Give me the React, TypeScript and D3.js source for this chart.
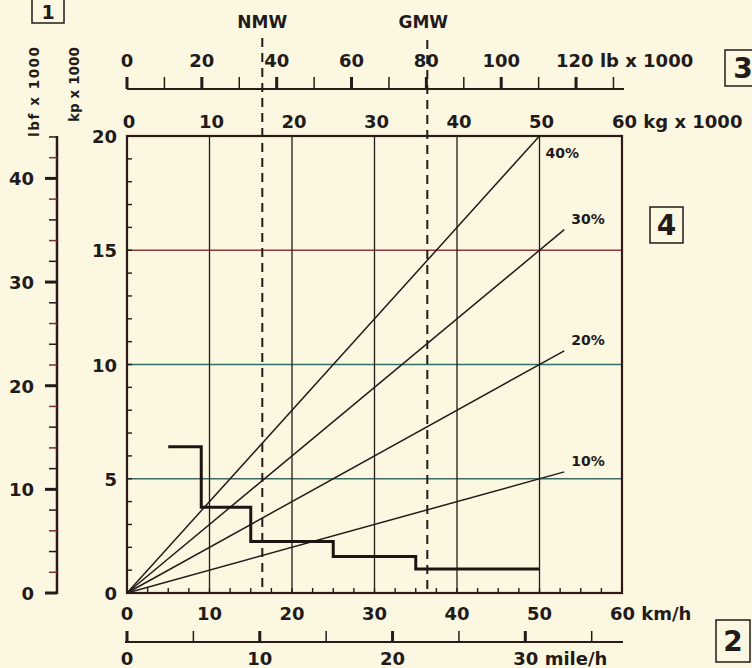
import React, { useEffect, useRef } from "react";
import * as d3 from "d3";

// km/h (bottom) and kg x 1000 (top) share the same scale
const speedTicks = [0, 10, 20, 30, 40, 50, 60];
const kgTicks = [0, 10, 20, 30, 40, 50, 60];
const lbTicks = [0, 20, 40, 60, 80, 100, 120];
const kpTicks = [0, 5, 10, 15, 20];
const lbfTicks = [0, 10, 20, 30, 40];
const mphTicks = [0, 10, 20, 30];
const gridKp = [5, 10, 15];
const gridColors = ["#3f6a62", "#2f6f66", "#8a3a3a"];

// gradient lines: kp x 1000 = grade * speed
const grades = [40, 30, 20, 10];
const gradeEnd = [50, 53, 53, 53];

// traction curve (step)
const stepSpeeds = [5, 9, 15, 25, 35, 50];
const stepForce = [6.4, 3.75, 2.25, 1.6, 1.05];

const nmwKg = 16.4;
const gmwKg = 36.4;

const ink = "#221b1a";
const bg = "#fcf7e1";

const App: React.FC = () => {
  const svgRef = useRef<SVGSVGElement | null>(null);

  useEffect(() => {
    const width = 752;
    const height = 668;
    const left = 127;
    const right = 622;
    const top = 136;
    const bottom = 593;
    const font = "'DejaVu Sans', sans-serif";

    const svg = d3.select(svgRef.current);
    svg.selectAll("*").remove();
    svg.attr("width", width).attr("height", height);

    svg.append("rect").attr("width", width).attr("height", height).attr("fill", bg);

    const x = d3.scaleLinear().domain([0, 60]).range([left, right]);
    const y = d3.scaleLinear().domain([0, 20]).range([bottom, top]);
    const lb = d3.scaleLinear().domain([0, 60 * 2.20462]).range([left, right]);
    const lbf = d3.scaleLinear().domain([0, 20 * 2.20462]).range([bottom, top]);
    const mph = d3.scaleLinear().domain([0, 60 / 1.609344]).range([left, right]);

    const txt = (
      tx: number,
      ty: number,
      s: string,
      size = 18,
      anchor = "middle",
    ) =>
      svg
        .append("text")
        .attr("x", tx)
        .attr("y", ty)
        .attr("text-anchor", anchor)
        .attr("font-family", font)
        .attr("font-weight", "bold")
        .attr("font-size", size)
        .attr("fill", ink)
        .text(s);

    // horizontal grid
    gridKp.forEach((v, i) => {
      svg
        .append("line")
        .attr("x1", left)
        .attr("x2", right)
        .attr("y1", y(v))
        .attr("y2", y(v))
        .attr("stroke", gridColors[i])
        .attr("stroke-width", 1.3);
    });

    // vertical grid
    speedTicks.slice(1, -1).forEach((v) => {
      svg
        .append("line")
        .attr("x1", x(v))
        .attr("x2", x(v))
        .attr("y1", top)
        .attr("y2", bottom)
        .attr("stroke", ink)
        .attr("stroke-width", 1.3);
    });

    // inner ticks: kp every 1, km/h every 2.5
    d3.range(1, 20).forEach((v) => {
      svg
        .append("line")
        .attr("x1", left)
        .attr("x2", left + 5)
        .attr("y1", y(v))
        .attr("y2", y(v))
        .attr("stroke", ink)
        .attr("stroke-width", 1.4);
    });
    d3.range(2.5, 60, 2.5).forEach((v) => {
      svg
        .append("line")
        .attr("x1", x(v))
        .attr("x2", x(v))
        .attr("y1", bottom)
        .attr("y2", bottom - 5)
        .attr("stroke", ink)
        .attr("stroke-width", 1.4);
    });

    // box
    svg
      .append("rect")
      .attr("x", left)
      .attr("y", top)
      .attr("width", right - left)
      .attr("height", bottom - top)
      .attr("fill", "none")
      .attr("stroke", "#2e1a1a")
      .attr("stroke-width", 2.2);

    // gradient lines
    grades.forEach((g, i) => {
      svg
        .append("line")
        .attr("x1", x(0))
        .attr("y1", y(0))
        .attr("x2", x(gradeEnd[i]))
        .attr("y2", y((g / 100) * gradeEnd[i]))
        .attr("stroke", ink)
        .attr("stroke-width", 1.5);
    });
    txt(x(50) + 6, y(20) + 22, "40%", 14, "start");
    grades.slice(1).forEach((g, i) => {
      const e = gradeEnd[i + 1];
      txt(x(e) + 7, y((g / 100) * e) - 6, `${g}%`, 14, "start");
    });

    // traction step curve
    const pts: [number, number][] = [];
    stepForce.forEach((f, i) => {
      pts.push([stepSpeeds[i], f]);
      pts.push([stepSpeeds[i + 1], f]);
    });
    svg
      .append("path")
      .attr(
        "d",
        d3
          .line<[number, number]>()
          .x((d) => x(d[0]))
          .y((d) => y(d[1]))(pts),
      )
      .attr("fill", "none")
      .attr("stroke", "#1e1414")
      .attr("stroke-width", 3);

    // NMW / GMW dashed lines
    [nmwKg, gmwKg].forEach((v, i) => {
      svg
        .append("line")
        .attr("x1", x(v))
        .attr("x2", x(v))
        .attr("y1", i === 0 ? 38 : 40)
        .attr("y2", bottom)
        .attr("stroke", ink)
        .attr("stroke-width", 2)
        .attr("stroke-dasharray", "9,6");
    });
    txt(x(nmwKg), 28, "NMW", 17);
    txt(x(gmwKg) - 4, 28, "GMW", 17);

    // kp labels (inner left)
    kpTicks.forEach((v) => txt(117, y(v) + 7, String(v), 18, "end"));

    // km/h labels
    speedTicks.forEach((v) => {
      if (v === 60) txt(x(v) - 12, 620, "60 km/h", 18, "start");
      else txt(x(v), 620, String(v));
    });

    // kg labels (top of box)
    kgTicks.forEach((v) => {
      if (v === 60) txt(x(v) - 10, 128, "60 kg x 1000", 18, "start");
      else txt(x(v) + 2, 128, String(v));
    });

    // lb axis
    const lbY = 89;
    svg
      .append("line")
      .attr("x1", lb(0))
      .attr("x2", lb(60 * 2.20462) + 2)
      .attr("y1", lbY)
      .attr("y2", lbY)
      .attr("stroke", "#2e1a1a")
      .attr("stroke-width", 2);
    d3.range(0, 131, 10).forEach((v) => {
      const major = v % 20 === 0;
      svg
        .append("line")
        .attr("x1", lb(v))
        .attr("x2", lb(v))
        .attr("y1", lbY)
        .attr("y2", lbY - 12)
        .attr("stroke", ink)
        .attr("stroke-width", major ? 3 : 1.5);
    });
    lbTicks.forEach((v) => {
      if (v === 120) txt(lb(v) - 20, 67, "120 lb x 1000", 18, "start");
      else txt(lb(v), 67, String(v));
    });

    // lbf axis
    const lbfX = 57;
    svg
      .append("line")
      .attr("x1", lbfX)
      .attr("x2", lbfX)
      .attr("y1", lbf(0) + 1)
      .attr("y2", lbf(20 * 2.20462))
      .attr("stroke", "#2e1a1a")
      .attr("stroke-width", 2.5);
    d3.range(0, 45, 2).forEach((v) => {
      const major = v % 10 === 0;
      svg
        .append("line")
        .attr("x1", lbfX)
        .attr("x2", major ? lbfX - 12 : lbfX - 8)
        .attr("y1", lbf(v))
        .attr("y2", lbf(v))
        .attr("stroke", v % 4 === 2 && !major ? "#7a3030" : ink)
        .attr("stroke-width", major ? 3 : 1.5);
    });
    lbfTicks.forEach((v) => txt(34, lbf(v) + 7, String(v), 18, "end"));

    // mph axis
    const mphY = 642;
    svg
      .append("line")
      .attr("x1", mph(0) - 2)
      .attr("x2", right + 1)
      .attr("y1", mphY)
      .attr("y2", mphY)
      .attr("stroke", "#2e1a1a")
      .attr("stroke-width", 2);
    d3.range(0, 36, 5).forEach((v) => {
      const major = v % 10 === 0;
      svg
        .append("line")
        .attr("x1", mph(v))
        .attr("x2", mph(v))
        .attr("y1", mphY)
        .attr("y2", mphY - 11)
        .attr("stroke", ink)
        .attr("stroke-width", major ? 3 : 1.5);
    });
    mphTicks.forEach((v) => {
      if (v === 30) txt(mph(v) - 12, 665, "30 mile/h", 18, "start");
      else txt(mph(v), 665, String(v));
    });

    // rotated unit labels
    const unitLabel = (tx: number, ty: number, s: string, len: number) =>
      svg
        .append("text")
        .attr("transform", `translate(${tx},${ty}) rotate(-90)`)
        .attr("font-family", font)
        .attr("font-weight", "bold")
        .attr("font-size", 13.5)
        .attr("textLength", len)
        .attr("lengthAdjust", "spacing")
        .attr("fill", ink)
        .text(s);
    unitLabel(39, 137, "lbf x 1000", 90);
    unitLabel(79, 122, "kp x 1000", 75);

    // numbered boxes: [label, x, y, w, h, font size, baseline offset]
    const boxes: [string, number, number, number, number, number, number][] = [
      ["1", 32, -10, 32, 33, 19, 29],
      ["3", 725, 50, 40, 36, 28, 28],
      ["4", 650, 207, 33, 36, 28, 28],
      ["2", 716, 620, 34, 42, 28, 31],
    ];
    boxes.forEach(([s, bx, by, bw, bh, fs, off]) => {
      svg
        .append("rect")
        .attr("x", bx)
        .attr("y", by)
        .attr("width", bw)
        .attr("height", bh)
        .attr("fill", "none")
        .attr("stroke", ink)
        .attr("stroke-width", 1.5);
      txt(bx + (s === "3" ? 18 : bw / 2), by + off, s, fs);
    });
  }, []);

  return (
    <div style={{ position: "absolute", left: 0, top: 0 }}>
      <svg ref={svgRef}></svg>
    </div>
  );
};

export default App;
